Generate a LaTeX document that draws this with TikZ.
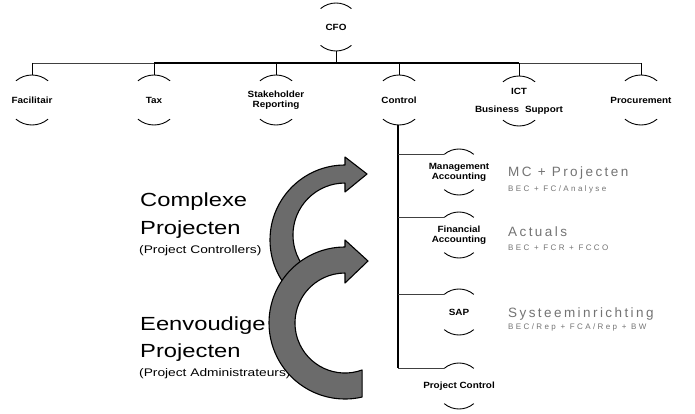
\documentclass[tikz,border=0pt]{standalone}
\usepackage{fontspec}
\setmainfont{Liberation Sans}
\newfontfamily\lblfont{Liberation Sans}[FakeStretch=1.1]
\newfontfamily\bigfont{Liberation Sans}[FakeStretch=1.25]
\newfontfamily\rfont{Liberation Sans}[LetterSpace=18]
\newfontfamily\rsfont{Liberation Sans}[LetterSpace=30]
\tikzset{
  lbl/.style={font=\lblfont\bfseries\fontsize{9}{10}\selectfont, align=center, inner sep=0pt},
  orgline/.style={line width=0.9pt, black},
  thinline/.style={line width=0.6pt, black!75},
  bigtxt/.style={font=\bigfont\fontsize{19}{22}\selectfont, anchor=base west, inner sep=0pt},
  smalltxt/.style={font=\bigfont\fontsize{11}{13}\selectfont, anchor=base west, inner sep=0pt},
  rtxt/.style={font=\rfont\fontsize{13.5}{15}\selectfont, text=black!55, anchor=base west, inner sep=0pt},
  rstxt/.style={font=\rsfont\fontsize{8}{10}\selectfont, text=black!55, anchor=base west, inner sep=0pt},
  bigarrow/.style={draw=black, line width=1.1pt, fill=black!58, line join=round},
}
\newcommand\orgarcs[2]{%
  \draw[orgline] ([shift={(-130:#2)}]#1.center) arc[start angle=-130, end angle=-50, radius=#2];
  \draw[orgline] ([shift={(50:#2)}]#1.center) arc[start angle=50, end angle=130, radius=#2];
}
\begin{document}
\begin{tikzpicture}[x=1pt, y=-1pt]
\useasboundingbox (0,0) rectangle (695,414);

% top level
\node[lbl] (cfo) at (336,27) {CFO};
\node[lbl] (fac) at (32,100) {Facilitair};
\node[lbl] (tax) at (154,100) {Tax};
\node[lbl] (stake) at (276,100) {Stakeholder\\Reporting};
\node[lbl] (ctrl) at (399,100) {Control};
\node[lbl] (ict) at (519,101) {ICT\\[8pt]Business\hspace{6pt}Support};
\node[lbl] (proc) at (641,100) {Procurement};

\orgarcs{cfo}{24}
\foreach \n in {fac,tax,stake,ctrl,ict,proc}{\orgarcs{\n}{25}}

\coordinate (bar) at (336,63);
\draw[orgline] ([shift={(0,24)}]cfo.center) -- (bar);
\draw[thinline] (bar -| fac) -- (bar -| tax);
\draw[orgline, line width=1.2pt] (bar -| tax) -- (bar -| ict);
\draw[thinline] (bar -| ict) -- (bar -| proc);
\foreach \n in {fac,tax,stake,ctrl,ict,proc}{
  \draw[orgline] (bar -| \n) -- ([shift={(0,-25)}]\n.center);
}

% second level under Control
\node[lbl] (mgmt) at (459,172) {Management\\Accounting};
\node[lbl] (fin) at (459,235) {Financial\\Accounting};
\node[lbl] (sap) at (459,312) {SAP};
\node[lbl] (pc) at (459,386) {Project Control};
\foreach \n in {mgmt,fin,sap,pc}{\orgarcs{\n}{23}}
\foreach \n in {mgmt,fin,sap,pc}{
  \coordinate (\n L) at ([shift={(-130:23)}]\n.center);
}
\coordinate (ctrlbot) at ([shift={(-1,25)}]ctrl.center);
\draw[orgline, line width=1.2pt] (ctrlbot) -- (ctrlbot |- pcL);
\foreach \n in {mgmt,fin,sap,pc}{
  \draw[thinline] (ctrlbot |- \n L) -- (\n L);
}

% right texts
\node[rtxt] (t1) at (508,176.5) {MC + Projecten};
\node[rstxt] (t1b) at (508,191) {BEC + FC/Analyse};
\node[rtxt] (t2) at (508,236) {Actuals};
\node[rstxt] (t2b) at (508,250) {BEC + FCR + FCCO};
\node[rtxt] (t3) at (508,317) {Systeeminrichting};
\node[rstxt] (t3b) at (508,329) {BEC/Rep + FCA/Rep + BW};

% left texts
\node[bigtxt] (c1) at (140,206) {Complexe};
\node[bigtxt] (c2) at (140,234) {Projecten};
\node[smalltxt] (c3) at (139,253) {(Project Controllers)};
\node[bigtxt] (e1) at (140,330) {Eenvoudige};
\node[bigtxt] (e2) at (140,357) {Projecten};
\node[smalltxt] (e3) at (139,376) {(Project Administrateurs)};

% curved arrows
\draw[bigarrow] (345,165) arc[start angle=-90, end angle=-225, radius=75]
  -- (308.2,271.8) arc[start angle=-225, end angle=-90, radius=52]
  -- (345,192) -- (367,174) -- (345,157) -- cycle;
\draw[bigarrow] (345,247) arc[start angle=-90, end angle=-283, radius=76]
  -- (362.1,370) arc[start angle=-290, end angle=-90, radius=50]
  -- (345,283) -- (368,261) -- (345,240) -- cycle;
\end{tikzpicture}
\end{document}
